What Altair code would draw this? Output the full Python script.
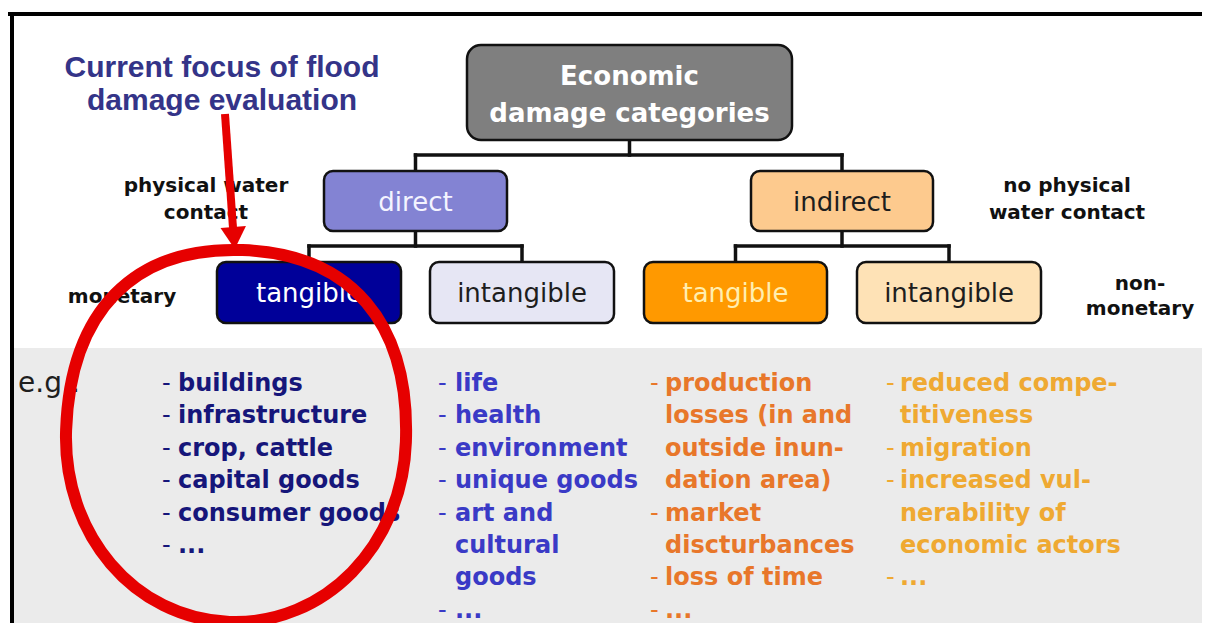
import altair as alt
import pandas as pd

# ---------------- content (texts of the diagram) ----------------
TOP_TITLE = ["Economic", "damage categories"]
LEVEL1 = ["direct", "indirect"]
LEVEL2 = ["tangible", "intangible", "tangible", "intangible"]
FOCUS_NOTE = ["Current focus of flood", "damage evaluation"]
LEFT_UPPER = ["physical water", "contact"]
RIGHT_UPPER = ["no physical", "water contact"]
LEFT_LOWER = ["monetary"]
RIGHT_LOWER = ["non-", "monetary"]
EG = ["e.g.:"]

DIRECT_TANGIBLE = [["buildings"], ["infrastructure"], ["crop, cattle"],
                   ["capital goods"], ["consumer goods"], ["..."]]
DIRECT_INTANGIBLE = [["life"], ["health"], ["environment"], ["unique goods"],
                     ["art and", "cultural", "goods"], ["..."]]
INDIRECT_TANGIBLE = [["production", "losses (in and", "outside inun-", "dation area)"],
                     ["market", "discturbances"], ["loss of time"], ["..."]]
INDIRECT_INTANGIBLE = [["reduced compe-", "titiveness"], ["migration"],
                       ["increased vul-", "nerability of", "economic actors"], ["..."]]

# ---------------- layout (page pixel frame) ----------------
X_DOM = [8, 1202]
Y_DOM = [8, 623]
W, H = 1194, 615

BOX_X = [467, 324, 751, 217, 430, 644, 857]
BOX_X2 = [792, 507, 933, 401, 614, 827, 1041]
BOX_Y = [45, 171, 171, 262, 262, 262, 262]
BOX_Y2 = [140, 231, 231, 323, 323, 323, 323]
BOX_FILL = ["#7f7f7f", "#8383d3", "#fdca8e", "#000099", "#e6e6f4", "#ff9900", "#fee2b6"]
BOX_TEXT_COLOR = ["#ffffff", "#f4f4ff", "#1e1e1e", "#ffffff", "#1e1e1e", "#ffeeb0", "#1e1e1e"]

LIST_DASH_X = [162, 438, 650, 886]
LIST_TEXT_X = [178, 455, 665, 900]
LIST_COLOR = ["#16167a", "#3a3ac6", "#e8772a", "#efa932"]
LIST_Y0, LIST_STEP = 391, 32.4


def X(f="x"):
    return alt.X(f"{f}:Q", scale=alt.Scale(domain=X_DOM, nice=False, zero=False), axis=None)


def Y(f="y"):
    return alt.Y(f"{f}:Q", scale=alt.Scale(domain=Y_DOM, nice=False, zero=False, reverse=True), axis=None)


# grey example band
band = pd.DataFrame({"x": [14], "x2": [1202], "y": [348], "y2": [623]})
band_layer = alt.Chart(band).mark_rect(fill="#ebebeb").encode(
    x=X(), x2="x2:Q", y=Y(), y2="y2:Q")

# frame lines
frame = pd.DataFrame({"x": [8, 12], "y": [14, 14], "x2": [1202, 12], "y2": [14, 623]})
frame_layer = alt.Chart(frame).mark_rule(color="#000000", strokeWidth=4).encode(
    x=X(), y=Y(), x2="x2:Q", y2="y2:Q")

# connectors of the tree
cx = [(BOX_X[i] + BOX_X2[i]) / 2 for i in range(7)]
segs = [
    (cx[0], BOX_Y2[0], cx[0], 155),
    (cx[1], 155, cx[2], 155),
    (cx[1], 155, cx[1], BOX_Y[1]),
    (cx[2], 155, cx[2], BOX_Y[2]),
    (cx[1], BOX_Y2[1], cx[1], 246),
    (cx[3], 246, cx[4], 246),
    (cx[3], 246, cx[3], BOX_Y[3]),
    (cx[4], 246, cx[4], BOX_Y[4]),
    (cx[2], BOX_Y2[2], cx[2], 246),
    (cx[5], 246, cx[6], 246),
    (cx[5], 246, cx[5], BOX_Y[5]),
    (cx[6], 246, cx[6], BOX_Y[6]),
]
conn = pd.DataFrame(segs, columns=["x", "y", "x2", "y2"])
conn_layer = alt.Chart(conn).mark_rule(color="#111111", strokeWidth=3.5, strokeCap="square").encode(
    x=X(), y=Y(), x2="x2:Q", y2="y2:Q")

# boxes
boxes = pd.DataFrame({"x": BOX_X, "x2": BOX_X2, "y": BOX_Y, "y2": BOX_Y2, "fill": BOX_FILL})
top_box = alt.Chart(boxes.iloc[:1]).mark_rect(cornerRadius=14, stroke="#111111", strokeWidth=2.5).encode(
    x=X(), x2="x2:Q", y=Y(), y2="y2:Q", fill=alt.Fill("fill:N", scale=None))
other_boxes = alt.Chart(boxes.iloc[1:]).mark_rect(cornerRadius=9, stroke="#111111", strokeWidth=2.5).encode(
    x=X(), x2="x2:Q", y=Y(), y2="y2:Q", fill=alt.Fill("fill:N", scale=None))

# box labels
title_df = pd.DataFrame({"x": [cx[0], cx[0]], "y": [85, 122], "text": TOP_TITLE,
                         "color": [BOX_TEXT_COLOR[0]] * 2})
title_layer = alt.Chart(title_df).mark_text(font="DejaVu Sans", fontWeight="bold", fontSize=26,
                                            align="center", baseline="alphabetic").encode(
    x=X(), y=Y(), text="text:N", color=alt.Color("color:N", scale=None))

lbl_df = pd.DataFrame({"x": cx[1:], "y": [211, 211, 302, 302, 302, 302],
                       "text": LEVEL1 + LEVEL2, "color": BOX_TEXT_COLOR[1:]})
lbl_layer = alt.Chart(lbl_df).mark_text(font="DejaVu Sans", fontSize=26,
                                        align="center", baseline="alphabetic").encode(
    x=X(), y=Y(), text="text:N", color=alt.Color("color:N", scale=None))

# side labels
side_df = pd.DataFrame({
    "x": [206, 206, 1067, 1067, 122, 1140, 1140],
    "y": [192, 219, 192, 219, 303, 290, 315],
    "text": LEFT_UPPER + RIGHT_UPPER + LEFT_LOWER + RIGHT_LOWER,
})
side_layer = alt.Chart(side_df).mark_text(font="DejaVu Sans", fontWeight="bold", fontSize=20,
                                          align="center", baseline="alphabetic", color="#111111").encode(
    x=X(), y=Y(), text="text:N")

focus_df = pd.DataFrame({"x": [222, 222], "y": [77, 110], "text": FOCUS_NOTE})
focus_layer = alt.Chart(focus_df).mark_text(font="Liberation Sans", fontWeight="bold", fontSize=30,
                                            align="center", baseline="alphabetic", color="#343488").encode(
    x=X(), y=Y(), text="text:N")

eg_df = pd.DataFrame({"x": [18], "y": [392], "text": EG})
eg_layer = alt.Chart(eg_df).mark_text(font="DejaVu Sans", fontSize=28, align="left",
                                      baseline="alphabetic", color="#1e1e1e").encode(
    x=X(), y=Y(), text="text:N")

# example lists
rows, dashes = [], []
for ci, col in enumerate([DIRECT_TANGIBLE, DIRECT_INTANGIBLE, INDIRECT_TANGIBLE, INDIRECT_INTANGIBLE]):
    k = 0
    for item in col:
        for li, line in enumerate(item):
            yy = LIST_Y0 + LIST_STEP * k
            rows.append({"x": LIST_TEXT_X[ci], "y": yy, "text": line, "color": LIST_COLOR[ci]})
            if li == 0:
                dashes.append({"x": LIST_DASH_X[ci], "y": yy, "text": "-", "color": LIST_COLOR[ci]})
            k += 1
rows_df = pd.DataFrame(rows)
dash_df = pd.DataFrame(dashes)
items_layer = alt.Chart(rows_df).mark_text(font="DejaVu Sans", fontWeight="bold", fontSize=24,
                                           align="left", baseline="alphabetic").encode(
    x=X(), y=Y(), text="text:N", color=alt.Color("color:N", scale=None))
dash_layer = alt.Chart(dash_df).mark_text(font="DejaVu Sans", fontSize=24,
                                          align="left", baseline="alphabetic").encode(
    x=X(), y=Y(), text="text:N", color=alt.Color("color:N", scale=None))

# red highlight: hand-drawn style ring (fuller at the top) and arrow
RING = ("M 0 -1 C 0.585 -1 0.914 -0.64 0.914 0 C 0.914 0.56 0.512 1 0 1 "
        "C -0.512 1 -0.914 0.56 -0.914 0 C -0.914 -0.64 -0.585 -1 0 -1 Z")
ring_df = pd.DataFrame({"x": [236], "y": [436]})
ring_layer = alt.Chart(ring_df).mark_point(shape=RING, size=372 * 372, filled=False, opacity=1,
                                           stroke="#e60000", strokeWidth=12, angle=2).encode(
    x=X(), y=Y())

shaft_df = pd.DataFrame({"x": [225], "y": [114], "x2": [233], "y2": [228]})
shaft_layer = alt.Chart(shaft_df).mark_rule(color="#e60000", strokeWidth=8).encode(
    x=X(), y=Y(), x2="x2:Q", y2="y2:Q")
head_df = pd.DataFrame({"x": [234], "y": [238]})
head_layer = alt.Chart(head_df).mark_point(shape="triangle-down", size=650, filled=True, opacity=1,
                                           color="#e60000", angle=356).encode(
    x=X(), y=Y())

chart = alt.layer(
    band_layer, frame_layer, conn_layer, top_box, other_boxes,
    title_layer, lbl_layer, side_layer, focus_layer, eg_layer,
    dash_layer, items_layer, shaft_layer, head_layer, ring_layer,
).properties(
    width=W, height=H, padding=0, autosize=alt.AutoSizeParams(type="none"), background="#ffffff"
).configure_view(stroke=None)

chart.save("out.html", embed_options={"renderer": "svg", "actions": False})
